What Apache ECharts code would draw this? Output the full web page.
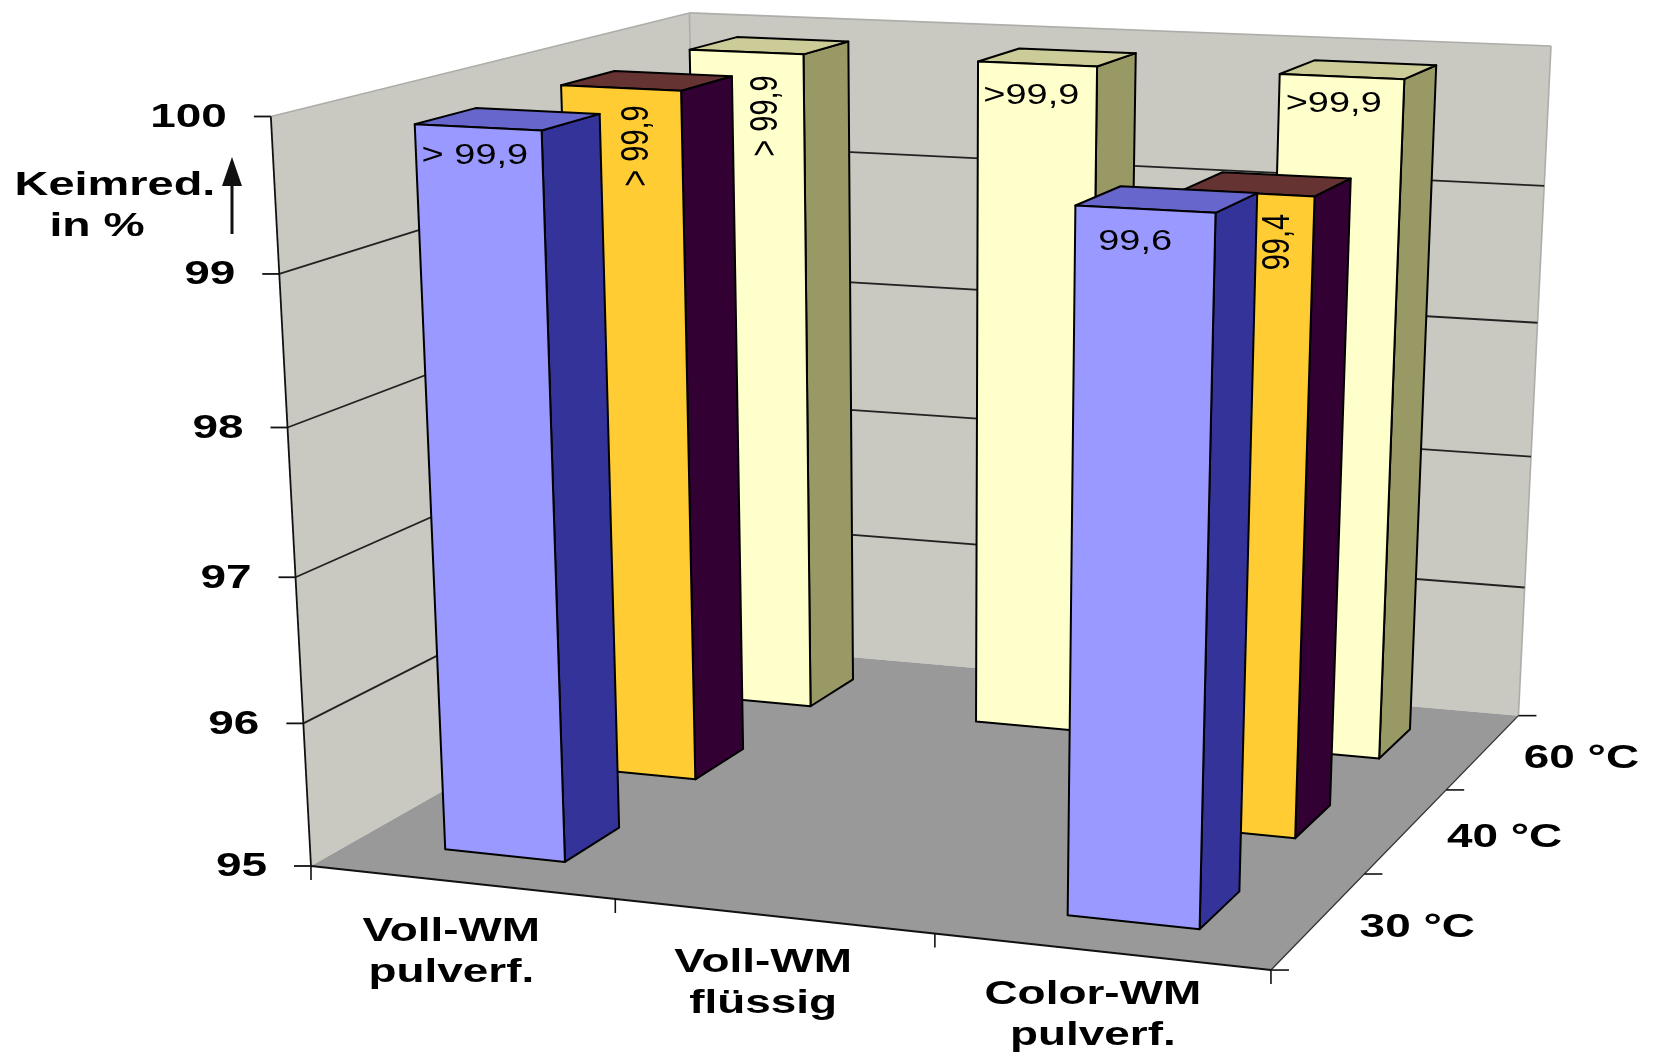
<!DOCTYPE html>
<html>
<head>
<meta charset="utf-8">
<style>html,body{margin:0;padding:0;background:#fff}#chart{width:1655px;height:1062px}</style>
<script src="https://cdn.jsdelivr.net/npm/echarts@6/dist/echarts.min.js"></script>
</head>
<body>
<div id="chart"></div>
<script>
// ---------- data ----------
const categories = ['Voll-WM\npulverf.', 'Voll-WM\nflüssig', 'Color-WM\npulverf.'];
const depthNames = ['30 °C', '40 °C', '60 °C'];
const valueTicks = [95, 96, 97, 98, 99, 100];
const values30 = [99.9, null, 99.6];
const values40 = [99.9, null, 99.4];
const values60 = [99.91, 99.91, 99.91];
const labels30 = ['> 99,9', null, '99,6'];
const labels40 = ['> 99,9', null, '99,4'];
const labels60 = ['> 99,9', '>99,9', '>99,9'];

// ---------- perspective of the 3D box (cat, depth, value all normalised 0..1) ----------
const O = [311, 866];                         // front-left floor corner
const AX_U = [868.7, 34.4], AX_D = [529.6, -94.8], AX_V = [-56.4, -756.5];
const PERSP = [-0.0718, 0.1975, -0.06];
function persp(u, d, v) {
  const w = 1 + PERSP[0] * u + PERSP[1] * d + PERSP[2] * v;
  return [
    (O[0] + AX_U[0] * u + AX_D[0] * d + AX_V[0] * v) / w,
    (O[1] + AX_U[1] * u + AX_D[1] * d + AX_V[1] * v) / w
  ];
}
const rowCount = depthNames.length, catCount = categories.length;
const BAR_NEAR = 0.3, BAR_FAR = 0.7;   // gap inside a category / depth row

function projector(params, api) {
  const r = params.coordSys;
  return function (catPos, rowPos, value) {
    const f = api.coord([catPos, value]);
    return persp((f[0] - r.x) / r.width, rowPos / rowCount, (r.y + r.height - f[1]) / r.height);
  };
}

// ---------- text helper: the reference is stretched horizontally ----------
const FONT = '"Liberation Sans", Arial, sans-serif';
function label(x, y, text, o) {
  o = o || {};
  return {
    type: 'group', x: x, y: y, scaleX: o.sx || 1.35,
    children: [{
      type: 'text', rotation: o.rot || 0,
      style: {
        text: text, x: 0, y: 0, fill: '#000',
        fontFamily: FONT, fontSize: o.size || 34, fontWeight: o.weight || 'bold',
        align: o.align || 'center', verticalAlign: 'middle', lineHeight: o.lh || 41
      }
    }]
  };
}
const poly = (pts, fill, stroke, lw) => ({
  type: 'polygon', shape: { points: pts },
  style: { fill: fill, stroke: stroke || null, lineWidth: lw || 0, lineJoin: 'round' }
});
const seg = (a, b, stroke, lw) => ({
  type: 'line', shape: { x1: a[0], y1: a[1], x2: b[0], y2: b[1] },
  style: { stroke: stroke, lineWidth: lw || 1.6 }
});

// ---------- walls, floor, axes ----------
const WALL = '#C9C9C1', FLOOR = '#999999', EDGE = '#ADADAA', INK = '#111';
const catLabelShift = [[-10, 70], [-10, 67], [-8, 64]];
const rowLabelShift = [98, 7];

function renderScene(params, api) {
  const P = projector(params, api);
  const vMin = valueTicks[0], vMax = valueTicks[valueTicks.length - 1];
  const ch = [];
  const A = P(0, 0, vMin), B = P(catCount, 0, vMin), C = P(catCount, rowCount, vMin), D = P(0, rowCount, vMin);
  const At = P(0, 0, vMax), Ct = P(catCount, rowCount, vMax), Dt = P(0, rowCount, vMax);

  ch.push(poly([A, At, Dt, D], WALL));
  ch.push(poly([D, Dt, Ct, C], WALL));
  ch.push(poly([A, B, C, D], FLOOR));
  ch.push(seg(At, Dt, EDGE, 1.6), seg(Dt, Ct, EDGE, 1.6), seg(Ct, C, EDGE, 1.6), seg(Dt, D, EDGE, 1.6));

  valueTicks.forEach(t => {
    const a = P(0, 0, t), b = P(0, rowCount, t), c = P(catCount, rowCount, t);
    if (t > vMin && t < vMax) ch.push(seg(a, b, '#222', 1.8), seg(b, c, '#222', 1.8));
    ch.push(seg([a[0] - 17, a[1]], a, INK, 1.8));
    ch.push(label(a[0] - 44, a[1] + 1, String(t), { align: 'right' }));
  });
  ch.push(seg(A, At, INK, 1.8), seg(A, B, INK, 2), seg(B, C, '#333', 1.3));

  for (let i = 0; i <= catCount; i++) {
    const a = P(i, 0, vMin);
    ch.push(seg(a, [a[0], a[1] + 14], INK, 1.6));
    if (i < catCount) {
      const m = P(i + 0.5, 0, vMin), s = catLabelShift[i];
      ch.push(label(m[0] + s[0], m[1] + s[1], categories[i]));
    }
  }
  for (let r = 0; r <= rowCount; r++) {
    const a = P(catCount, r, vMin);
    ch.push(seg(a, [a[0] + 18, a[1]], INK, 1.6));
    if (r < rowCount) {
      const m = P(catCount, r + 0.5, vMin);
      ch.push(label(m[0] + rowLabelShift[0], m[1] + rowLabelShift[1], depthNames[r]));
    }
  }

  // axis title and arrow
  ch.push(label(115, 186, 'Keimred.', { sx: 1.38 }));
  ch.push(label(97, 227, 'in %', { sx: 1.36 }));
  ch.push(seg([232, 234], [232, 180], INK, 3));
  ch.push(poly([[232, 157], [222, 186], [242, 186]], INK));
  return { type: 'group', children: ch };
}

// ---------- bars ----------
function barRenderer(row, colors, texts, shifts, rotated) {
  return function (params, api) {
    const P = projector(params, api);
    const cat = api.value(0), val = api.value(1);
    const base = valueTicks[0];
    const x0 = cat + BAR_NEAR, x1 = cat + BAR_FAR, z0 = row + BAR_NEAR, z1 = row + BAR_FAR;
    const fbl = P(x0, z0, base), fbr = P(x1, z0, base), bbr = P(x1, z1, base);
    const ftl = P(x0, z0, val), ftr = P(x1, z0, val), btr = P(x1, z1, val), btl = P(x0, z1, val);
    const ink = '#000', lw = 2;
    const ch = [
      poly([fbr, ftr, btr, bbr], colors.side, ink, lw),
      poly([ftl, ftr, btr, btl], colors.top, ink, lw),
      poly([fbl, fbr, ftr, ftl], colors.front, ink, lw)
    ];
    const c = P(cat + 0.5, z0, val), s = shifts[cat];
    ch.push(label(c[0] + s[0], c[1] + s[1], texts[cat], {
      size: 29, weight: 'normal', sx: 1.31, rot: rotated[cat] ? Math.PI / 2 : 0
    }));
    return { type: 'group', children: ch };
  };
}

const colors30 = { front: '#9999FF', side: '#333399', top: '#6666CC' };
const colors40 = { front: '#FFCC33', side: '#330033', top: '#663333' };
const colors60 = { front: '#FFFFCC', side: '#999966', top: '#CCCC99' };
const shifts30 = [[-3, 29], null, [-10, 33]];
const shifts40 = [[17, 58], null, [30, 49]];
const shifts60 = [[20, 64], [-6, 32], [-8, 27]];
const points = vals => vals.map((v, i) => v == null ? null : [i, v]).filter(Boolean);
const barSeries = (name, row, vals, colors, texts, shifts, rotated) => ({
  type: 'custom', name: name, coordinateSystem: 'cartesian2d', clip: false, silent: true,
  encode: { x: 0, y: 1 }, data: points(vals),
  renderItem: barRenderer(row, colors, texts, shifts, rotated)
});

const chart = echarts.init(document.getElementById('chart'));
chart.setOption({
  animation: false,
  backgroundColor: '#fff',
  grid: { left: 0, right: 0, top: 0, bottom: 0 },
  xAxis: { type: 'value', min: 0, max: catCount, show: false },
  yAxis: { type: 'value', min: valueTicks[0], max: valueTicks[valueTicks.length - 1], show: false },
  series: [
    { type: 'custom', name: 'scene', clip: false, silent: true, coordinateSystem: 'cartesian2d',
      encode: { x: 0, y: 1 }, data: [[0, valueTicks[0]]], renderItem: renderScene },
    barSeries(depthNames[2], 2, values60, colors60, labels60, shifts60, [true, false, false]),
    barSeries(depthNames[1], 1, values40, colors40, labels40, shifts40, [true, false, true]),
    barSeries(depthNames[0], 0, values30, colors30, labels30, shifts30, [false, false, false])
  ]
});
</script>
</body>
</html>
